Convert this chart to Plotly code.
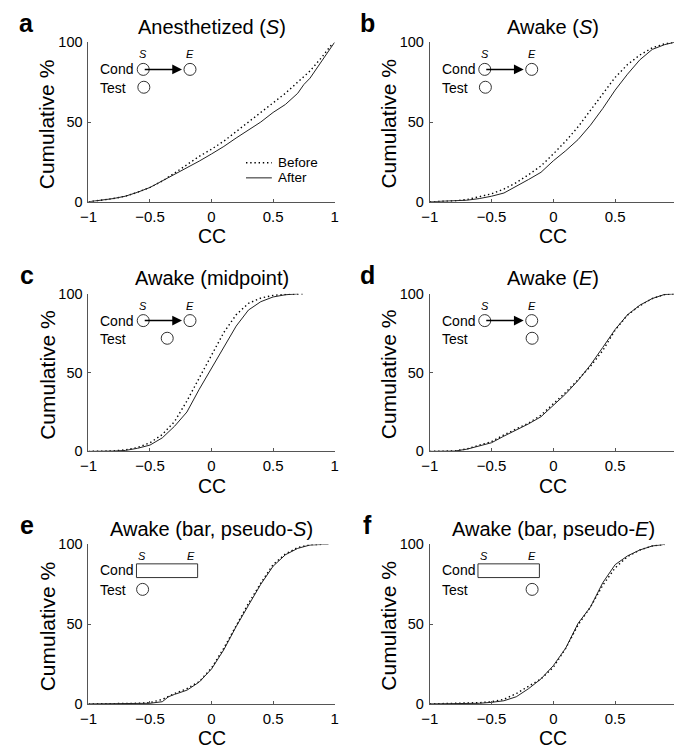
import plotly.graph_objects as go

W, H = 678, 755
FONT = "Liberation Sans, Arial, Helvetica, sans-serif"

# ---------------- data ----------------
titles = ["Anesthetized (<i>S</i>)", "Awake (<i>S</i>)", "Awake (midpoint)",
          "Awake (<i>E</i>)", "Awake (bar, pseudo-<i>S</i>)", "Awake (bar, pseudo-<i>E</i>)"]
letters = ["a", "b", "c", "d", "e", "f"]
x_ticks = [-1, -0.5, 0, 0.5, 1]
x_tick_labels = ["\u22121", "\u22120.5", "0", "0.5", "1"]
y_ticks = [0, 50, 100]
y_tick_labels = ["0", "50", "100"]

# panel a
a_after_cc = [-1, -0.9, -0.8, -0.7, -0.6, -0.5, -0.4, -0.3, -0.2, -0.1, 0, 0.1, 0.2, 0.3, 0.4, 0.5, 0.6, 0.7, 0.75, 0.8, 0.9, 0.95, 1.0]
a_after_pct = [0, 0.8, 2, 3.5, 6, 9, 13, 17.5, 21.5, 25.5, 30, 34.7, 40, 45, 50, 56, 61, 68, 73.5, 77.5, 89, 95, 100]
a_before_cc = [-1, -0.9, -0.8, -0.7, -0.6, -0.5, -0.4, -0.3, -0.2, -0.1, 0, 0.1, 0.2, 0.3, 0.4, 0.5, 0.6, 0.7, 0.8, 0.9, 0.95, 0.98]
a_before_pct = [0, 0.8, 2, 3.5, 6, 9, 13, 18, 23.5, 28.5, 33, 38, 44, 50, 55.7, 62, 68, 75, 82, 91, 96, 99]
# panel b
b_after_cc = [-1, -0.8, -0.7, -0.6, -0.5, -0.4, -0.3, -0.2, -0.1, 0, 0.1, 0.2, 0.3, 0.4, 0.5, 0.6, 0.7, 0.8, 0.9, 0.98]
b_after_pct = [0, 0.4, 1, 2, 3.5, 5.5, 9.6, 14, 18.5, 25.7, 32, 39, 48, 58.5, 70, 80, 89, 95.5, 98.5, 100]
b_before_cc = [-1, -0.8, -0.7, -0.6, -0.5, -0.4, -0.3, -0.2, -0.1, 0, 0.1, 0.2, 0.3, 0.4, 0.5, 0.6, 0.7, 0.8, 0.9, 0.98]
b_before_pct = [0, 0.6, 1.4, 3, 5, 8, 12, 17, 22.5, 30, 38, 47, 57.5, 68, 78, 86, 92, 96.5, 99, 100]
# panel c
c_after_cc = [-1, -0.9, -0.8, -0.7, -0.6, -0.5, -0.4, -0.3, -0.2, -0.1, 0, 0.1, 0.2, 0.3, 0.4, 0.5, 0.6, 0.7]
c_after_pct = [0, 0, 0.2, 0.6, 2, 4, 8.6, 16, 25, 39.4, 52.8, 66, 79.5, 89.7, 95, 98, 99.4, 100]
c_before_cc = [-1, -0.9, -0.8, -0.7, -0.6, -0.5, -0.4, -0.3, -0.2, -0.1, 0, 0.1, 0.2, 0.3, 0.4, 0.5, 0.6, 0.75]
c_before_pct = [0, 0, 0.3, 1, 2.5, 5.5, 10.7, 19, 32, 46.6, 61, 75.5, 86.7, 94, 97.3, 99, 99.6, 100]
# panel d
d_after_cc = [-1, -0.8, -0.7, -0.6, -0.5, -0.4, -0.3, -0.2, -0.1, 0, 0.1, 0.2, 0.3, 0.4, 0.5, 0.6, 0.7, 0.8, 0.9, 0.98]
d_after_pct = [0, 0.2, 1.4, 3.5, 5.5, 9.7, 13.5, 17.5, 22, 29, 36.5, 45, 54.8, 66, 77.4, 86.7, 92.8, 97, 99.6, 100]
d_before_cc = [-1, -0.8, -0.7, -0.6, -0.5, -0.4, -0.3, -0.2, -0.1, 0, 0.1, 0.2, 0.3, 0.4, 0.5, 0.6, 0.7, 0.8, 0.9, 0.98]
d_before_pct = [0, 0.3, 1.6, 3.8, 6.2, 10.5, 14.5, 18, 23, 30, 37.5, 45.5, 54, 64, 77, 86.5, 92.5, 97, 99.5, 100]
# panel e
e_after_cc = [-1, -0.8, -0.6, -0.5, -0.4, -0.35, -0.3, -0.2, -0.1, 0, 0.1, 0.2, 0.3, 0.4, 0.5, 0.6, 0.7, 0.8, 0.9, 0.95]
e_after_pct = [0, 0, 0.2, 0.4, 1.4, 4.5, 6, 8.6, 13.7, 21.9, 34, 48.5, 61.8, 75, 86.3, 93.5, 97.5, 99.6, 100, 100]
e_before_cc = [-1, -0.8, -0.6, -0.5, -0.4, -0.3, -0.2, -0.1, 0, 0.1, 0.2, 0.3, 0.4, 0.5, 0.6, 0.7, 0.8, 0.9]
e_before_pct = [0, 0.1, 0.4, 0.8, 2.9, 6.5, 9.6, 14, 22.5, 35, 49, 63, 75.7, 87.3, 94, 98, 99.8, 100]
# panel f
f_after_cc = [-1, -0.8, -0.6, -0.5, -0.4, -0.3, -0.2, -0.1, 0, 0.1, 0.2, 0.3, 0.4, 0.5, 0.6, 0.7, 0.8, 0.9]
f_after_pct = [0, 0, 0.4, 1, 2, 4.5, 9.6, 15.7, 24, 35, 50.5, 60.7, 76, 87.3, 92.8, 96.5, 99, 100]
f_before_cc = [-1, -0.8, -0.6, -0.5, -0.4, -0.3, -0.2, -0.1, 0, 0.1, 0.2, 0.3, 0.4, 0.5, 0.6, 0.7, 0.8, 0.9]
f_before_pct = [0, 0.2, 0.8, 1.4, 2.9, 6.5, 11, 15.7, 23, 34.8, 49.5, 60.7, 74.4, 85.3, 92.4, 96.5, 99, 100]

after_cc = [a_after_cc, b_after_cc, c_after_cc, d_after_cc, e_after_cc, f_after_cc]
after_pct = [a_after_pct, b_after_pct, c_after_pct, d_after_pct, e_after_pct, f_after_pct]
before_cc = [a_before_cc, b_before_cc, c_before_cc, d_before_cc, e_before_cc, f_before_cc]
before_pct = [a_before_pct, b_before_pct, c_before_pct, d_before_pct, e_before_pct, f_before_pct]

# inset diagram: test stimulus position per panel (CC-axis units)
test_pos = [-0.55, -0.55, -0.36, -0.172, -0.56, -0.172]

# ---------------- layout geometry (pixels) ----------------
col_px = [(81, 332), (429, 681)]
row_px = [(35, 198), (292, 453), (548, 711)]

fig = go.Figure()
annotations = []
shapes = []

def px(v):
    return v / W

def py(v):
    return 1 - v / H

for i in range(6):
    r, c = divmod(i, 2)
    k = "" if i == 0 else str(i + 1)
    xl, xr = col_px[c]
    yt, yb = row_px[r]
    xr_clip = min(xr, W)
    xmax = -1 + 2 * (xr_clip - xl) / (xr - xl)
    fig.update_layout(**{
        "xaxis" + k: dict(domain=[px(xl), px(xr_clip)], range=[-1, xmax], anchor="y" + k,
                          tickvals=x_ticks, ticktext=x_tick_labels, ticks="inside", ticklen=3,
                          tickcolor="#555", showline=True, linecolor="#555", linewidth=1,
                          showgrid=False, zeroline=False, ticklabelstandoff=1,
                          tickfont=dict(size=15, color="black", family=FONT)),
        "yaxis" + k: dict(domain=[py(yb), py(yt)], range=[0, 100], anchor="x" + k,
                          tickvals=y_ticks, ticktext=y_tick_labels, ticks="inside", ticklen=3,
                          tickcolor="#555", showline=True, linecolor="#555", linewidth=1,
                          showgrid=False, zeroline=False, ticklabelstandoff=2,
                          tickfont=dict(size=14.5, color="black", family=FONT)),
    })
    xa, ya = "x" + k, "y" + k
    fig.add_trace(go.Scatter(x=before_cc[i], y=before_pct[i], mode="lines", xaxis=xa, yaxis=ya,
                             line=dict(color="black", width=1.4, dash="1.4px,2.8px"),
                             name="Before", showlegend=False))
    fig.add_trace(go.Scatter(x=after_cc[i], y=after_pct[i], mode="lines", xaxis=xa, yaxis=ya,
                             line=dict(color="#222", width=1), name="After", showlegend=False))

    xc = (xl + xr) / 2
    # panel letter
    annotations.append(dict(text="<b>%s</b>" % letters[i], x=px(xl - 63), y=py(yt - 19.5),
                            xref="paper", yref="paper", showarrow=False, xanchor="center",
                            yanchor="middle", font=dict(size=25, family=FONT, color="black")))
    # title
    annotations.append(dict(text=titles[i], x=px(xc), y=py(yt - 16), xref="paper", yref="paper",
                            showarrow=False, xanchor="center", yanchor="middle",
                            font=dict(size=20, family=FONT, color="black")))
    # axis titles
    annotations.append(dict(text="CC", x=px(xc), y=py(yb + 35), xref="paper", yref="paper",
                            showarrow=False, xanchor="center", yanchor="middle",
                            font=dict(size=19.5, family=FONT, color="black")))
    annotations.append(dict(text="Cumulative %", x=px(xl - 42), y=py((yt + yb) / 2 + 2),
                            xref="paper", yref="paper", showarrow=False, textangle=-90,
                            xanchor="center", yanchor="middle",
                            font=dict(size=21, family=FONT, color="black")))

    # inset diagram
    small = dict(size=14, family=FONT, color="black")
    annotations.append(dict(text="Cond", x=-0.92, y=83 if i < 4 else 84, xref=xa, yref=ya,
                            showarrow=False, xanchor="left", yanchor="middle", font=small))
    annotations.append(dict(text="Test", x=-0.92, y=71.5, xref=xa, yref=ya,
                            showarrow=False, xanchor="left", yanchor="middle", font=small))
    s_x, e_x = (-0.555, -0.175) if i < 4 else (-0.562, -0.17)
    for lab, lx in (("S", s_x), ("E", e_x)):
        annotations.append(dict(text="<i>%s</i>" % lab, x=lx, y=92.5, xref=xa, yref=ya,
                                showarrow=False, xanchor="center", yanchor="middle",
                                font=dict(size=11, family=FONT, color="black")))
    circ = dict(type="circle", xref=xa, yref=ya, xsizemode="pixel", ysizemode="pixel",
                x0=-6, x1=6, y0=-6, y1=6, line=dict(color="#333", width=1))
    if i < 4:
        shapes.append(dict(circ, xanchor=s_x, yanchor=83))
        shapes.append(dict(circ, xanchor=e_x, yanchor=83))
        annotations.append(dict(text="", x=-0.24, y=83, ax=s_x, ay=83, axref=xa, ayref=ya,
                                xref=xa, yref=ya, showarrow=True, arrowhead=2, arrowsize=1.3,
                                arrowwidth=1.5, arrowcolor="black", standoff=0, startstandoff=0))
    else:
        shapes.append(dict(type="rect", xref=xa, yref=ya, x0=-0.61, x1=-0.113, y0=79.2, y1=87.8,
                           line=dict(color="#333", width=1)))
    shapes.append(dict(circ, xanchor=test_pos[i], yanchor=71.8))

    if i == 0:
        shapes.append(dict(type="line", xref=xa, yref=ya, x0=0.28, x1=0.49, y0=24.5, y1=24.5,
                           line=dict(color="black", width=1.4, dash="1.4px,2.8px")))
        shapes.append(dict(type="line", xref=xa, yref=ya, x0=0.28, x1=0.49, y0=15, y1=15,
                           line=dict(color="#222", width=1)))
        annotations.append(dict(text="Before", x=0.52, y=24.5, xref=xa, yref=ya, showarrow=False,
                                xanchor="left", yanchor="middle",
                                font=dict(size=13.5, family=FONT, color="black")))
        annotations.append(dict(text="After", x=0.52, y=15, xref=xa, yref=ya, showarrow=False,
                                xanchor="left", yanchor="middle",
                                font=dict(size=13.5, family=FONT, color="black")))

fig.update_layout(width=W, height=H, margin=dict(l=0, r=0, t=0, b=0),
                  paper_bgcolor="white", plot_bgcolor="white", showlegend=False,
                  annotations=annotations, shapes=shapes,
                  font=dict(family=FONT, color="black"))

fig.write_html("out.html", config={"displayModeBar": False},
               post_script="document.body.style.margin='0';document.body.style.overflow='hidden';")
